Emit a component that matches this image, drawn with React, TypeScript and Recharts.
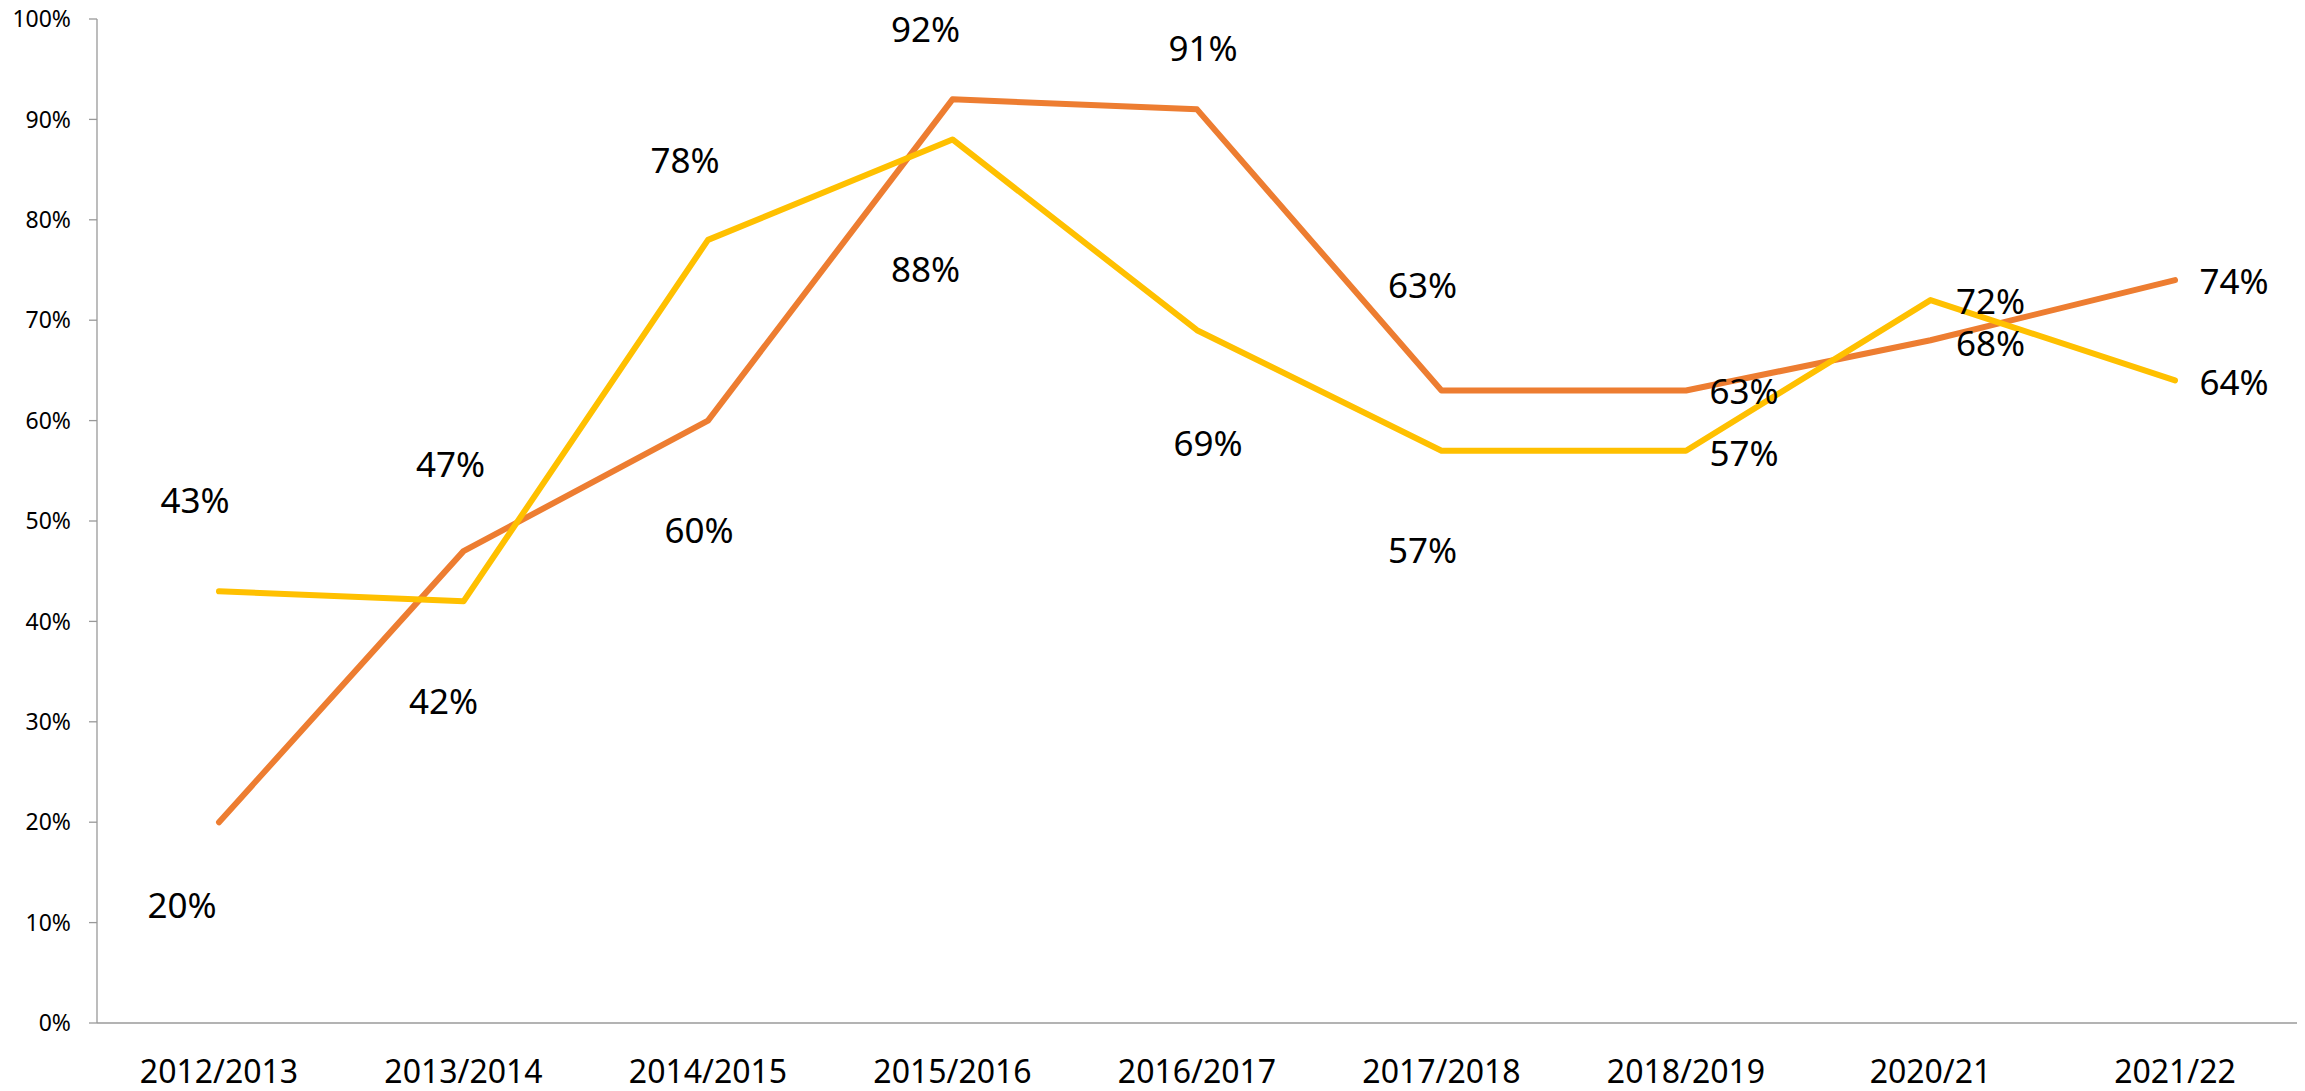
import { LineChart, Line, XAxis, YAxis, LabelList } from 'recharts'

const years = [
  '2012/2013', '2013/2014', '2014/2015', '2015/2016', '2016/2017',
  '2017/2018', '2018/2019', '2020/21', '2021/22',
]
const orangeValues = [20, 47, 60, 92, 91, 63, 63, 68, 74]
const yellowValues = [43, 42, 78, 88, 69, 57, 57, 72, 64]
const yTicks = [0, 10, 20, 30, 40, 50, 60, 70, 80, 90, 100]

// label nudges (dx, dy from the point to the label centre), hand-placed like the original
const orangeLabelShift = [
  [-37, 82], [-13, -88], [-9, 109], [-27, -71], [6, -62],
  [-19, -106], [58, 0], [60, 2], [59, 0],
]
const yellowLabelShift = [
  [-24, -92], [-20, 99], [-23, -80], [-27, 129], [11, 112],
  [-19, 99], [58, 2], [60, 0], [59, 1],
]

const data = years.map((year, i) => ({
  year,
  orange: orangeValues[i],
  yellow: yellowValues[i],
}))

const FONT = '"Noto Sans", "Open Sans", sans-serif'

const makeLabel = (shift: number[][]) => (props: any) => {
  const { x, y, value, index } = props
  const [dx, dy] = shift[index] ?? [0, -40]
  return (
    <text
      x={Number(x) + dx}
      y={Number(y) + dy}
      textAnchor="middle"
      dominantBaseline="central"
      fontFamily={FONT}
      fontSize={35}
      fill="#000"
    >
      {`${value}%`}
    </text>
  )
}

export default function App() {
  return (
    <div style={{ position: 'absolute', left: 0, top: 0 }}>
      <LineChart
        width={2305}
        height={1091}
        data={data}
        margin={{ top: 19, right: 8, left: 0, bottom: 0 }}
      >
        <XAxis
          dataKey="year"
          height={68}
          padding={{ left: 122, right: 122 }}
          tickLine={false}
          tickSize={0}
          tickMargin={37}
          axisLine={{ stroke: '#B3B3B3', strokeWidth: 2 }}
          tick={{ fontSize: 32, fill: '#000', fontFamily: FONT }}
          interval={0}
        />
        <YAxis
          width={97}
          domain={[0, 100]}
          ticks={yTicks}
          interval={0}
          tickFormatter={(v: number) => `${v}%`}
          tickSize={8}
          tickMargin={18}
          tickLine={{ stroke: '#999999', strokeWidth: 1.3 }}
          axisLine={{ stroke: '#999999', strokeWidth: 1.3 }}
          tick={{ fontSize: 23, fill: '#000', fontFamily: FONT }}
        />
        <Line
          dataKey="orange"
          stroke="#ED7D31"
          strokeWidth={6}
          strokeLinejoin="round"
          strokeLinecap="round"
          dot={false}
          isAnimationActive={false}
        >
          <LabelList dataKey="orange" content={makeLabel(orangeLabelShift)} />
        </Line>
        <Line
          dataKey="yellow"
          stroke="#FFC000"
          strokeWidth={6}
          strokeLinejoin="round"
          strokeLinecap="round"
          dot={false}
          isAnimationActive={false}
        >
          <LabelList dataKey="yellow" content={makeLabel(yellowLabelShift)} />
        </Line>
      </LineChart>
    </div>
  )
}
